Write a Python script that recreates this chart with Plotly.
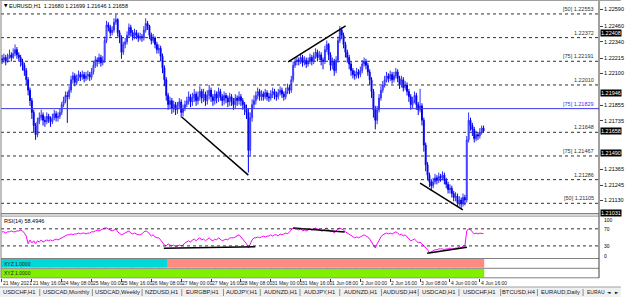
import plotly.graph_objects as go

# ---------------- data ----------------
time_labels = ["21 May 2021", "21 May 16:00", "24 May 08:00", "25 May 00:00", "25 May 16:00",
               "26 May 08:00", "27 May 00:00", "27 May 16:00", "28 May 08:00", "31 May 00:00",
               "31 May 16:00", "1 Jun 08:00", "2 Jun 00:00", "2 Jun 16:00", "3 Jun 08:00",
               "4 Jun 00:00", "4 Jun 16:00"]
time_label_bar = [0, 16, 32, 48, 64, 80, 96, 112, 128, 144, 160, 176, 192, 208, 224, 240, 256]

first_open = 1.2221
close = [
 1.2220,1.2222,1.2219,1.2222,1.2224,1.2222,1.2225,1.2228,1.2224,1.2222,1.2219,1.2216,1.2212,1.2205,1.2197,1.2189,
 1.2180,1.2170,1.2163,1.2173,1.2176,1.2178,1.2174,1.2173,1.2177,1.2175,1.2173,1.2176,1.2179,1.2176,1.2177,1.2180,
 1.2186,1.2189,1.2193,1.2192,1.2197,1.2205,1.2208,1.2203,1.2206,1.2209,1.2207,1.2209,1.2206,1.2208,1.2209,1.2207,
 1.2211,1.2216,1.2220,1.2219,1.2222,1.2218,1.2220,1.2235,1.2247,1.2245,1.2241,1.2243,1.2249,1.2251,1.2241,1.2237,
 1.2226,1.2232,1.2234,1.2239,1.2245,1.2241,1.2238,1.2241,1.2239,1.2237,1.2238,1.2237,1.2243,1.2248,1.2246,1.2239,
 1.2235,1.2237,1.2232,1.2228,1.2229,1.2223,1.2214,1.2205,1.2193,1.2186,1.2189,1.2183,1.2186,1.2182,1.2185,1.2188,
 1.2180,1.2183,1.2186,1.2189,1.2192,1.2188,1.2191,1.2194,1.2189,1.2192,1.2196,1.2191,1.2194,1.2189,1.2193,1.2197,
 1.2192,1.2189,1.2194,1.2191,1.2196,1.2192,1.2189,1.2193,1.2191,1.2188,1.2192,1.2189,1.2186,1.2191,1.2189,1.2192,
 1.2189,1.2186,1.2183,1.2180,1.2151,1.2176,1.2186,1.2189,1.2193,1.2196,1.2192,1.2194,1.2192,1.2195,1.2192,1.2191,
 1.2194,1.2196,1.2193,1.2192,1.2195,1.2197,1.2194,1.2192,1.2196,1.2199,1.2197,1.2205,1.2216,1.2219,1.2220,1.2219,
 1.2222,1.2218,1.2220,1.2217,1.2219,1.2222,1.2219,1.2223,1.2226,1.2222,1.2224,1.2220,1.2219,1.2228,1.2232,1.2224,
 1.2216,1.2219,1.2212,1.2220,1.2235,1.2243,1.2239,1.2232,1.2226,1.2222,1.2217,1.2212,1.2209,1.2208,1.2211,1.2209,
 1.2212,1.2217,1.2219,1.2216,1.2211,1.2205,1.2196,1.2182,1.2174,1.2182,1.2191,1.2197,1.2201,1.2205,1.2208,1.2206,
 1.2209,1.2205,1.2208,1.2211,1.2206,1.2201,1.2205,1.2199,1.2201,1.2196,1.2192,1.2186,1.2189,1.2193,1.2186,1.2182,
 1.2185,1.2174,1.2155,1.2140,1.2132,1.2127,1.2124,1.2127,1.2130,1.2128,1.2131,1.2130,1.2132,1.2128,1.2125,1.2121,
 1.2122,1.2118,1.2115,1.2116,1.2111,1.2113,1.2110,1.2115,1.2113,1.2159,1.2174,1.2170,1.2167,1.2160,1.2163,1.2162,
 1.2165,1.2168,1.21658]
high = [
 1.2224,1.2225,1.2224,1.2225,1.2228,1.2226,1.2229,1.2232,1.2230,1.2226,1.2224,1.2221,1.2218,1.2214,1.2207,1.2199,
 1.2191,1.2182,1.2172,1.2176,1.2180,1.2182,1.2180,1.2177,1.2180,1.2179,1.2177,1.2179,1.2182,1.2181,1.2180,1.2183,
 1.2188,1.2192,1.2196,1.2196,1.2200,1.2208,1.2211,1.2210,1.2209,1.2212,1.2211,1.2212,1.2211,1.2211,1.2212,1.2211,
 1.2214,1.2219,1.2223,1.2222,1.2225,1.2224,1.2223,1.2238,1.2250,1.2249,1.2247,1.2246,1.2252,1.2255,1.2252,1.2243,
 1.2239,1.2234,1.2237,1.2242,1.2248,1.2247,1.2243,1.2244,1.2243,1.2241,1.2241,1.2240,1.2246,1.2252,1.2250,1.2247,
 1.2241,1.2240,1.2238,1.2234,1.2232,1.2231,1.2225,1.2216,1.2207,1.2195,1.2192,1.2191,1.2189,1.2188,1.2188,1.2191,
 1.2190,1.2186,1.2189,1.2192,1.2196,1.2194,1.2195,1.2198,1.2196,1.2196,1.2200,1.2198,1.2198,1.2196,1.2197,1.2201,
 1.2199,1.2194,1.2197,1.2196,1.2199,1.2198,1.2194,1.2196,1.2195,1.2193,1.2195,1.2194,1.2191,1.2194,1.2193,1.2196,
 1.2194,1.2191,1.2188,1.2186,1.2183,1.2180,1.2190,1.2193,1.2196,1.2199,1.2198,1.2197,1.2196,1.2198,1.2197,1.2195,
 1.2197,1.2199,1.2198,1.2196,1.2198,1.2200,1.2199,1.2196,1.2199,1.2202,1.2201,1.2208,1.2219,1.2222,1.2223,1.2222,
 1.2225,1.2224,1.2223,1.2222,1.2222,1.2225,1.2224,1.2226,1.2229,1.2228,1.2227,1.2226,1.2222,1.2231,1.2235,1.2233,
 1.2226,1.2222,1.2221,1.2223,1.2238,1.2246,1.2245,1.2241,1.2234,1.2228,1.2224,1.2219,1.2214,1.2212,1.2214,1.2213,
 1.2215,1.2220,1.2222,1.2221,1.2218,1.2213,1.2207,1.2198,1.2185,1.2185,1.2194,1.2200,1.2204,1.2208,1.2211,1.2210,
 1.2212,1.2211,1.2211,1.2214,1.2213,1.2208,1.2208,1.2207,1.2204,1.2203,1.2198,1.2194,1.2192,1.2196,1.2195,1.2188,
 1.2198,1.2187,1.2176,1.2157,1.2142,1.2134,1.2129,1.2130,1.2133,1.2132,1.2134,1.2133,1.2135,1.2134,1.2130,1.2127,
 1.2125,1.2124,1.2120,1.2119,1.2118,1.2116,1.2115,1.2118,1.2117,1.2162,1.2180,1.2176,1.2172,1.2169,1.2166,1.2165,
 1.2168,1.2170,1.21699]
low = [
 1.2217,1.2218,1.2216,1.2218,1.2221,1.2219,1.2221,1.2223,1.2221,1.2219,1.2215,1.2212,1.2208,1.2201,1.2193,1.2185,
 1.2175,1.2165,1.2159,1.2161,1.2171,1.2174,1.2170,1.2169,1.2171,1.2172,1.2169,1.2171,1.2174,1.2173,1.2173,1.2175,
 1.2178,1.2184,1.2187,1.2172,1.2190,1.2195,1.2202,1.2200,1.2201,1.2204,1.2204,1.2205,1.2203,1.2204,1.2205,1.2204,
 1.2205,1.2209,1.2214,1.2215,1.2217,1.2215,1.2216,1.2218,1.2233,1.2242,1.2238,1.2239,1.2241,1.2247,1.2238,1.2233,
 1.2221,1.2224,1.2229,1.2232,1.2237,1.2238,1.2235,1.2236,1.2236,1.2234,1.2235,1.2234,1.2235,1.2241,1.2243,1.2236,
 1.2232,1.2233,1.2229,1.2225,1.2225,1.2219,1.2210,1.2200,1.2189,1.2182,1.2183,1.2179,1.2180,1.2178,1.2179,1.2183,
 1.2176,1.2177,1.2181,1.2184,1.2186,1.2184,1.2185,1.2188,1.2185,1.2186,1.2189,1.2187,1.2188,1.2185,1.2186,1.2190,
 1.2188,1.2185,1.2186,1.2187,1.2188,1.2189,1.2185,1.2186,1.2187,1.2184,1.2185,1.2185,1.2182,1.2183,1.2185,1.2186,
 1.2185,1.2182,1.2178,1.2175,1.2134,1.2146,1.2173,1.2183,1.2186,1.2190,1.2189,1.2189,1.2189,1.2190,1.2189,1.2188,
 1.2189,1.2191,1.2190,1.2189,1.2190,1.2193,1.2191,1.2189,1.2190,1.2194,1.2194,1.2195,1.2203,1.2214,1.2216,1.2216,
 1.2217,1.2215,1.2216,1.2214,1.2215,1.2217,1.2216,1.2217,1.2221,1.2219,1.2220,1.2216,1.2213,1.2217,1.2226,1.2220,
 1.2212,1.2213,1.2208,1.2210,1.2218,1.2233,1.2236,1.2229,1.2222,1.2218,1.2213,1.2208,1.2206,1.2205,1.2206,1.2206,
 1.2207,1.2210,1.2215,1.2213,1.2208,1.2201,1.2191,1.2176,1.2167,1.2171,1.2180,1.2189,1.2195,1.2199,1.2203,1.2203,
 1.2204,1.2202,1.2203,1.2206,1.2203,1.2198,1.2199,1.2196,1.2197,1.2193,1.2188,1.2182,1.2183,1.2187,1.2182,1.2178,
 1.2180,1.2170,1.2150,1.2135,1.2128,1.2123,1.2120,1.2122,1.2125,1.2125,1.2126,1.2127,1.2128,1.2125,1.2122,1.2118,
 1.2118,1.2115,1.2112,1.2112,1.2108,1.2108,1.2106,1.2108,1.2109,1.2111,1.2157,1.2166,1.2162,1.2157,1.2158,1.2159,
 1.2160,1.2163,1.21646]

rsi = [
 63,63,60,63,63,65,63,63, 65,65,67,65,60, 53,
 35,44,37,42,35,42,39,44,39,42,44,
 42,44,42,44,46,44,46,49,51,53,56,56,
 58,56,58,58,60,58,60,60,58,60,60,63,63,65,67,65,67,70,72,
 72,70,67,65,67,70,63,60,56,58,60,63,65,60,58,60,58,56,56,58,63,65,63,58,53,56,51,49,49,44,37,32,30,
 35,32,30,32,28,30,32,30,32,37,39,42,39,44,46,42,46,49,44,46,42,46,49,44,42,46,44,49,46,42,44,46,44,49,49,49,51,53,56,51,46,39,35,25,37,44,49,
 49,51,49,51,53,51,53,53,56,53,56,56,53,58,56,58,60,58,63,67,72,70,
 70,67,70,65,67,65,67,70,67,70,72,70,67,65,65,70,72,67,63,65,60,65,70,72,70,67,63,60,58,53,51,49,51,49,51,53,56,53,51,46,39,30,25,
 35,44,51,56,58,60,58,60,58,60,63,60,56,58,53,56,51,46,42,44,46,42,37,39,35,30,25,21,14,16,18,21,21,23,23,23,21,23,23,25,23,23,25,25,28,25,30,30,
 65,70,68,63,58,60,58,60,59,58.4946]

# state of the two histogram indicators (per bar)
state_top = ["up"] * 89 + ["down"] * 170
state_bottom = ["up"] * 259

# fibonacci-style levels drawn on the price window
levels = [1.22553, 1.22372, 1.22191, 1.22010, 1.21829, 1.21648, 1.21467, 1.21286, 1.21105]
level_tags = ["[50] ", "", "[75] ", "", "[75] ", "", "[75] ", "", "[50] "]
blue_level = 4

# trendlines: (bar, value) endpoints
price_trends = [((96.3, 1.21765), (132.0, 1.21321)),
                ((153.3, 1.22186), (184.1, 1.22461)),
                ((224.0, 1.21260), (246.9, 1.21054))]
rsi_trends = [((86.7, 24.5), (135.7, 28.2)),
              ((156.0, 71.9), (183.6, 62.6)),
              ((227.8, 13.1), (249.1, 27.1))]

price_ticks = [1.22590, 1.22460, 1.22340, 1.22215, 1.22100, 1.21855, 1.21735,
               1.21365, 1.21245, 1.21130]
marker_prices = [1.22408, 1.21946, 1.21658, 1.21490, 1.21031]

tabs = ["USDCHF,H1", "USDCAD,Monthly", "USDCAD,Weekly", "NZDUSD,H1", "EURGBP,H1", "AUDJPY,H1",
        "AUDNZD,H1", "AUDJPY,H1", "AUDNZD,H1", "AUDUSD,H4", "USDCAD,H1", "USDCHF,H1",
        "BTCUSD,H4", "EURAUD,Daily"]

# ---------------- layout helpers ----------------
W, H = 625, 297
L_PX, R_PX, T_PX, B_PX = 1, 603, 1, 278
FONT = "Liberation Sans"


def py(y):
    return (B_PX - y) / (B_PX - T_PX)


def px(x):
    return (x - L_PX) / (R_PX - L_PX)


n = len(close)
idx = list(range(n))
opens = [first_open] + close[:-1]

fig = go.Figure()
fig.add_trace(go.Candlestick(
    x=idx, open=opens, high=high, low=low, close=close,
    increasing=dict(line=dict(color="#3030ff", width=1), fillcolor="#a8a8ff"),
    decreasing=dict(line=dict(color="#0000f0", width=1), fillcolor="#0000f0"),
    whiskerwidth=0, xaxis="x", yaxis="y", showlegend=False, hoverinfo="skip"))

fig.add_trace(go.Scatter(x=idx, y=rsi, mode="lines", line=dict(color="#ff00ff", width=1),
                         xaxis="x", yaxis="y2", showlegend=False, hoverinfo="skip"))

col_top = {"up": "#00d8d8", "down": "#ff8a80"}
col_bot = {"up": "#80f000", "down": "#ff8a80"}
fig.add_trace(go.Bar(x=idx, y=[1] * n, marker=dict(color=[col_top[s] for s in state_top], line=dict(width=0)),
                     xaxis="x", yaxis="y3", showlegend=False, hoverinfo="skip"))
fig.add_trace(go.Bar(x=idx, y=[1] * n, marker=dict(color=[col_bot[s] for s in state_bottom], line=dict(width=0)),
                     xaxis="x", yaxis="y4", showlegend=False, hoverinfo="skip"))

shapes = []
ann = []

# level lines
for k, lv in enumerate(levels):
    if k == blue_level:
        shapes.append(dict(type="line", xref="paper", yref="y", x0=0, x1=1, y0=lv, y1=lv,
                           line=dict(color="#3838e8", width=1)))
    else:
        shapes.append(dict(type="line", xref="paper", yref="y", x0=0, x1=1, y0=lv, y1=lv,
                           line=dict(color="#303030", width=1, dash="dot")))
    ann.append(dict(xref="paper", yref="y", x=px(600), y=lv, xanchor="right", yanchor="bottom",
                    text=level_tags[k] + f"{lv:.5f}", showarrow=False,
                    font=dict(family=FONT, size=5.5, color="#3838e8" if k == blue_level else "#303030")))

# trendlines
for (a, b) in price_trends:
    shapes.append(dict(type="line", xref="x", yref="y", x0=a[0], y0=a[1], x1=b[0], y1=b[1],
                       line=dict(color="black", width=1.5)))
for (a, b) in rsi_trends:
    shapes.append(dict(type="line", xref="x", yref="y2", x0=a[0], y0=a[1], x1=b[0], y1=b[1],
                       line=dict(color="black", width=1.5)))

# rsi dotted levels
for lv in (70, 30):
    shapes.append(dict(type="line", xref="paper", yref="y2", x0=0, x1=1, y0=lv, y1=lv,
                       line=dict(color="#303030", width=1, dash="dot")))

# panel borders / separators
for y in (213.5, 216, 258.5, 268.3, 277.8):
    shapes.append(dict(type="line", xref="paper", yref="paper", x0=0, x1=1, y0=py(y), y1=py(y),
                       line=dict(color="#808080", width=1)))
shapes.append(dict(type="rect", xref="paper", yref="paper", x0=px(0), x1=px(603), y0=py(214), y1=py(215.7),
                   fillcolor="#d8d8d8", line=dict(width=0)))
shapes.append(dict(type="line", xref="paper", yref="paper", x0=1, x1=1, y0=py(278), y1=py(0.5),
                   line=dict(color="#404040", width=1)))
shapes.append(dict(type="line", xref="paper", yref="paper", x0=px(1), x1=px(1), y0=py(278), y1=py(0),
                   line=dict(color="#808080", width=1)))
shapes.append(dict(type="line", xref="paper", yref="paper", x0=px(0), x1=px(625), y0=py(0.5), y1=py(0.5),
                   line=dict(color="#a0a0a0", width=1)))

# tab strip
shapes.append(dict(type="rect", xref="paper", yref="paper", x0=px(0), x1=px(625), y0=py(287), y1=py(297),
                   fillcolor="#f0f0f0", line=dict(width=0)))
shapes.append(dict(type="line", xref="paper", yref="paper", x0=px(0), x1=px(625), y0=py(287), y1=py(287),
                   line=dict(color="#a0a0a0", width=1)))
seps = [40, 93, 143, 183, 225, 262, 302, 342, 384, 421, 462, 504, 541, 587]
for s in seps:
    shapes.append(dict(type="line", xref="paper", yref="paper", x0=px(s), x1=px(s), y0=py(289), y1=py(296),
                       line=dict(color="#909090", width=1)))
bounds = [0] + seps
for k, t in enumerate(tabs):
    if k < len(seps):
        cx = (bounds[k] + seps[k]) / 2
        ann.append(dict(xref="paper", yref="paper", x=px(cx), y=py(292.3), xanchor="center", yanchor="middle",
                        text=t, showarrow=False, font=dict(family=FONT, size=5.8, color="#202020")))
ann.append(dict(xref="paper", yref="paper", x=px(589), y=py(292.3), xanchor="left", yanchor="middle",
                text="EURAU", showarrow=False, font=dict(family=FONT, size=5, color="#202020")))
ann.append(dict(xref="paper", yref="paper", x=px(613), y=py(292.3), xanchor="center", yanchor="middle",
                text="◄", showarrow=False, font=dict(family="DejaVu Sans", size=4.5, color="#000000")))
ann.append(dict(xref="paper", yref="paper", x=px(621), y=py(292.3), xanchor="center", yanchor="middle",
                text="►", showarrow=False, font=dict(family="DejaVu Sans", size=4.5, color="#000000")))

# time labels
for b, t in zip(time_label_bar, time_labels):
    ann.append(dict(xref="x", yref="paper", x=b, y=py(282.8), xanchor="left", yanchor="middle",
                    text=t, showarrow=False, xshift=-1, font=dict(family=FONT, size=5, color="#202020")))

# titles
ann.append(dict(xref="paper", yref="paper", x=px(2), y=py(5.5), xanchor="left", yanchor="middle",
                text="▼", showarrow=False, font=dict(family="DejaVu Sans", size=4.5, color="#000000")))
ann.append(dict(xref="paper", yref="paper", x=px(7), y=py(5.5), xanchor="left", yanchor="middle",
                text="EURUSD,H1  1.21680 1.21699 1.21646 1.21658", showarrow=False,
                font=dict(family=FONT, size=5.5, color="#000000")))
ann.append(dict(xref="paper", yref="paper", x=px(2), y=py(221), xanchor="left", yanchor="middle",
                text="RSI(14) 58.4946", showarrow=False, font=dict(family=FONT, size=5.5, color="#000000")))
for yy in (263.5, 273):
    ann.append(dict(xref="paper", yref="paper", x=px(2), y=py(yy), xanchor="left", yanchor="middle",
                    text="XYZ 1.0000", showarrow=False, font=dict(family=FONT, size=5, color="#202020")))

# price-axis markers (black boxes)
for mp in marker_prices:
    ann.append(dict(xref="paper", yref="y", x=1, y=mp, xanchor="left", yanchor="middle", xshift=1,
                    text=f"{mp:.5f}", showarrow=False, bgcolor="#000000", borderpad=0,
                    font=dict(family=FONT, size=5.5, color="#ffffff")))

# rsi axis labels
for v, yy in ((100, 220), (70, 229), (30, 246), (0, 255.5)):
    ann.append(dict(xref="paper", yref="paper", x=1, y=py(yy), xanchor="left", yanchor="middle", xshift=3,
                    text=str(v), showarrow=False, font=dict(family=FONT, size=5, color="#000000")))

fig.update_layout(
    width=W, height=H, margin=dict(l=L_PX, r=W - R_PX, t=T_PX, b=H - B_PX),
    paper_bgcolor="white", plot_bgcolor="white", bargap=0.3, showlegend=False,
    xaxis=dict(range=[-0.53, 319.85], showgrid=False, zeroline=False, showticklabels=False,
               rangeslider=dict(visible=False), anchor="y4", ticks="outside", ticklen=3,
               tickvals=time_label_bar, tickcolor="#404040", showline=False),
    yaxis=dict(domain=[py(213), py(1)], range=[1.21031, 1.22652], side="right", anchor="x",
               showgrid=False, zeroline=False, tickvals=price_ticks,
               ticktext=[f"{v:.5f}" for v in price_ticks], ticks="outside", ticklen=3,
               tickcolor="#404040", tickfont=dict(family=FONT, size=5.5, color="#000000")),
    yaxis2=dict(domain=[py(258), py(216)], range=[1.75, 100], anchor="x", showgrid=False,
                zeroline=False, showticklabels=False),
    yaxis3=dict(domain=[py(267.8), py(259)], range=[0, 1], anchor="x", showgrid=False,
                zeroline=False, showticklabels=False),
    yaxis4=dict(domain=[py(277.5), py(268.8)], range=[0, 1], anchor="x", showgrid=False,
                zeroline=False, showticklabels=False),
    shapes=shapes, annotations=ann,
)

fig.write_html("out.html")
